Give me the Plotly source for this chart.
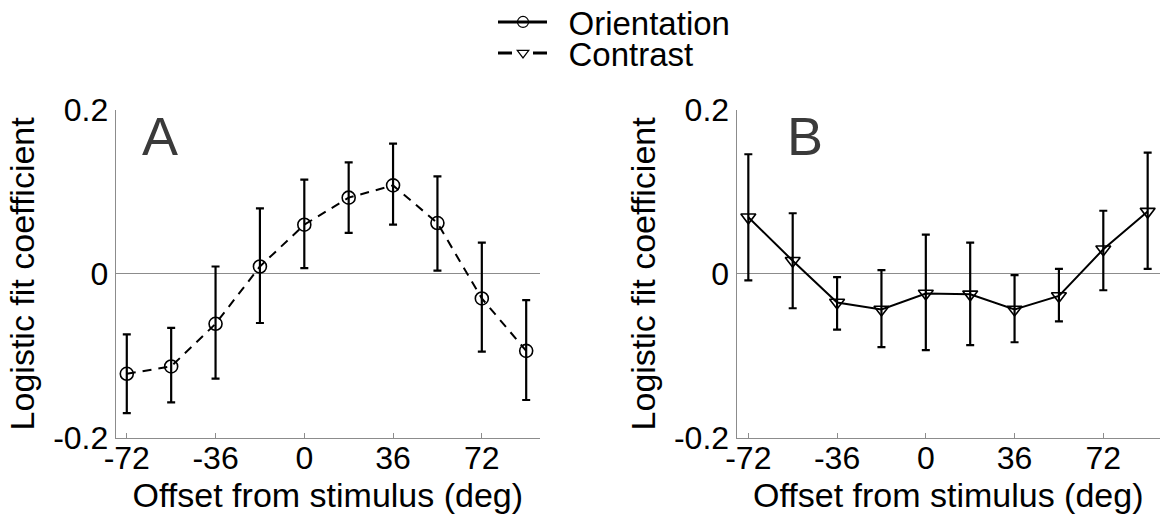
import plotly.graph_objects as go

# ---- data ----
offsets = [-72, -54, -36, -18, 0, 18, 36, 54, 72, 90]

orient_coef = [-0.122, -0.113, -0.061, 0.009, 0.060, 0.093, 0.108, 0.062, -0.030, -0.094]
orient_err_plus = [0.048, 0.047, 0.070, 0.071, 0.055, 0.043, 0.051, 0.057, 0.068, 0.062]
orient_err_minus = [0.048, 0.044, 0.067, 0.069, 0.053, 0.043, 0.048, 0.058, 0.065, 0.060]

contrast_coef = [0.069, 0.016, -0.035, -0.0435, -0.024, -0.025, -0.0435, -0.027, 0.030, 0.076]
contrast_err_plus = [0.077, 0.058, 0.031, 0.048, 0.072, 0.063, 0.042, 0.033, 0.047, 0.072]
contrast_err_minus = [0.077, 0.058, 0.033, 0.046, 0.069, 0.062, 0.040, 0.031, 0.050, 0.070]

xticks = [-72, -36, 0, 36, 72]
xticktext = ["-72", "-36", "0", "36", "72"]
yticks = [-0.2, 0, 0.2]
yticktext = ["-0.2", "0", "0.2"]

legend_names = ["Orientation", "Contrast"]

FONT = "Arial, Liberation Sans, Helvetica, sans-serif"
AXGREY = "#8c8c8c"
W, H = 1160, 517

fig = go.Figure()

# Panel A: dashed line, open circles
fig.add_trace(go.Scatter(
    x=offsets, y=orient_coef, mode="lines+markers",
    line=dict(color="black", width=2, dash="9px,7px"),
    marker=dict(symbol="circle-open", size=13, color="black", line=dict(width=1.6, color="black")),
    error_y=dict(type="data", symmetric=False, array=orient_err_plus, arrayminus=orient_err_minus,
                 color="black", thickness=2.2, width=4),
    xaxis="x", yaxis="y", showlegend=False,
))

# Panel B: solid line, open down triangles
fig.add_trace(go.Scatter(
    x=offsets, y=contrast_coef, mode="lines+markers",
    line=dict(color="black", width=2),
    marker=dict(symbol="triangle-down-open", size=13, color="black", line=dict(width=1.6, color="black")),
    error_y=dict(type="data", symmetric=False, array=contrast_err_plus, arrayminus=contrast_err_minus,
                 color="black", thickness=2.2, width=4),
    xaxis="x2", yaxis="y2", showlegend=False,
))

# legend entries (no data marks): line part with text, marker part centred on the line
fig.add_trace(go.Scatter(
    x=[None], y=[None], mode="lines", name="\u2002" + legend_names[0],
    line=dict(color="black", width=3),
    legend="legend", xaxis="x", yaxis="y",
))
fig.add_trace(go.Scatter(
    x=[None], y=[None], mode="lines", name="\u2002" + legend_names[1],
    line=dict(color="black", width=3, dash="14px,21px"),
    legend="legend2", xaxis="x", yaxis="y",
))
fig.add_trace(go.Scatter(
    x=[None], y=[None], mode="markers", name="",
    marker=dict(symbol="circle-open", size=11, color="black", line=dict(width=1.2, color="black")),
    legend="legend3", xaxis="x", yaxis="y",
))
fig.add_trace(go.Scatter(
    x=[None], y=[None], mode="markers", name="",
    marker=dict(symbol="triangle-down-open", size=10, color="black", line=dict(width=1.2, color="black")),
    legend="legend4", xaxis="x", yaxis="y",
))

def xax(domain, rng):
    return dict(domain=domain, range=rng, tickmode="array", tickvals=xticks, ticktext=xticktext,
                ticks="inside", ticklen=5, tickcolor=AXGREY, tickwidth=1, automargin=False,
                showline=True, linecolor=AXGREY, linewidth=1, showgrid=False, zeroline=False,
                tickfont=dict(size=32, color="black", family=FONT), ticklabelstandoff=-8,
                title=dict(text="Offset from stimulus (deg)", font=dict(size=34, color="black", family=FONT),
                           standoff=0))

def yax(domain, anchor):
    return dict(domain=domain, range=[-0.2, 0.2], tickmode="array", tickvals=yticks, ticktext=yticktext,
                ticks="inside", ticklen=5, tickcolor=AXGREY, tickwidth=1, automargin=False,
                showline=True, linecolor=AXGREY, linewidth=1, showgrid=False,
                zeroline=True, zerolinecolor=AXGREY, zerolinewidth=1,
                tickfont=dict(size=32, color="black", family=FONT), anchor=anchor,
                title=dict(text="Logistic fit coefficient", font=dict(size=34, color="black", family=FONT),
                           standoff=8))

def leg(xpx, ypx, iw):
    return dict(x=xpx / W, xanchor="left", y=1 - ypx / H, yanchor="middle",
                font=dict(size=33, family=FONT, color="black"), itemwidth=iw,
                bgcolor="rgba(0,0,0,0)", borderwidth=0)

ydom = [79.3 / H, 407.0 / H]
fig.update_layout(
    width=W, height=H,
    margin=dict(l=0, r=0, t=0, b=0, autoexpand=False),
    paper_bgcolor="white", plot_bgcolor="white",
    font=dict(family=FONT, color="black"),
    xaxis=xax([115.7 / W, 540 / W], [-76.5, 95.6]),
    yaxis=yax(ydom, "x"),
    xaxis2=xax([736.5 / W, 1.0], [-76.8, 95.0]),
    yaxis2=yax(ydom, "x2"),
    legend=leg(493, 22, 49),
    legend2=leg(493, 53, 49),
    legend3=leg(503, 22, 30),
    legend4=leg(503, 53, 30),
    annotations=[
        dict(text="A", x=140 / W, y=1 - 136 / H, xref="paper", yref="paper",
             xanchor="left", yanchor="middle", showarrow=False,
             font=dict(size=54, color="#3a3a3a", family=FONT)),
        dict(text="B", x=785 / W, y=1 - 136 / H, xref="paper", yref="paper",
             xanchor="left", yanchor="middle", showarrow=False,
             font=dict(size=54, color="#3a3a3a", family=FONT)),
    ],
)

fig.write_html("out.html")
